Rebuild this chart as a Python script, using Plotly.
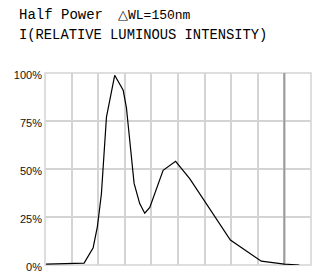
import plotly.graph_objects as go

# x positions in grid units (10 equal divisions, no x tick labels shown)
x_vals = [0.04, 1.47, 1.81, 1.97, 2.12, 2.31, 2.62, 2.94, 3.06, 3.35, 3.56, 3.75, 3.94, 4.31, 4.44, 4.91, 5.44, 6.97, 8.13, 9.0, 9.56]
intensity = [0.5, 1, 9, 20, 37, 77, 98.8, 91, 82, 42.5, 32, 27, 30, 45, 49.3, 54, 45, 13, 2, 0.5, 0]
y_ticks = [0, 25, 50, 75, 100]
y_tick_labels = ["0%", "25%", "50%", "75%", "100%"]
marker_line_x = [9, 9]
marker_line_y = [0, 100]

fig = go.Figure()
fig.add_trace(go.Scatter(x=marker_line_x, y=marker_line_y, mode="lines",
                         line=dict(color="#9a9a9a", width=2), hoverinfo="skip"))
fig.add_trace(go.Scatter(x=x_vals, y=intensity, mode="lines",
                         line=dict(color="black", width=1.2), hoverinfo="skip"))

# plot frame (light gray, like the grid)
fig.add_shape(type="rect", x0=0, x1=1, y0=0, y1=1, xref="paper", yref="paper",
              line=dict(color="#d4d4d4", width=1.5), layer="below")

fig.update_layout(
    width=318, height=274,
    margin=dict(l=45, r=7, t=73, b=9),
    paper_bgcolor="white", plot_bgcolor="white",
    showlegend=False,
    xaxis=dict(range=[0, 10], dtick=1, tick0=0, showticklabels=False,
               showgrid=True, gridcolor="#d4d4d4", gridwidth=1.5,
               zeroline=False, showline=False, fixedrange=True, automargin=False),
    yaxis=dict(range=[0, 100], tickvals=y_ticks, ticktext=y_tick_labels,
               showgrid=True, gridcolor="#d4d4d4", gridwidth=1.5,
               zeroline=False, showline=False, ticks="", automargin=False,
               fixedrange=True,
               ticklabelstandoff=2, ticklabelshift=2,
               tickfont=dict(family="Liberation Sans, Arial", size=11, color="#111")),
    annotations=[
        dict(text="Half Power", xref="paper", yref="paper", x=(17 - 45) / 266, y=(265 - 15) / 192,
             xanchor="left", yanchor="middle", showarrow=False,
             font=dict(family="Liberation Mono", size=14, color="black")),
        dict(text="△WL=150nm", xref="paper", yref="paper", x=(116 - 45) / 266, y=(265 - 15) / 192,
             xanchor="left", yanchor="middle", showarrow=False,
             font=dict(family="Liberation Mono", size=13, color="black")),
        dict(text="I(RELATIVE LUMINOUS INTENSITY)", xref="paper", yref="paper",
             x=(17 - 45) / 266, y=(265 - 35.5) / 192,
             xanchor="left", yanchor="middle", showarrow=False,
             font=dict(family="Liberation Mono", size=13.8, color="black")),
    ],
)

fig.write_html("out.html", config={"displayModeBar": False},
               post_script="document.body.style.margin='0';document.body.style.overflow='hidden';")
